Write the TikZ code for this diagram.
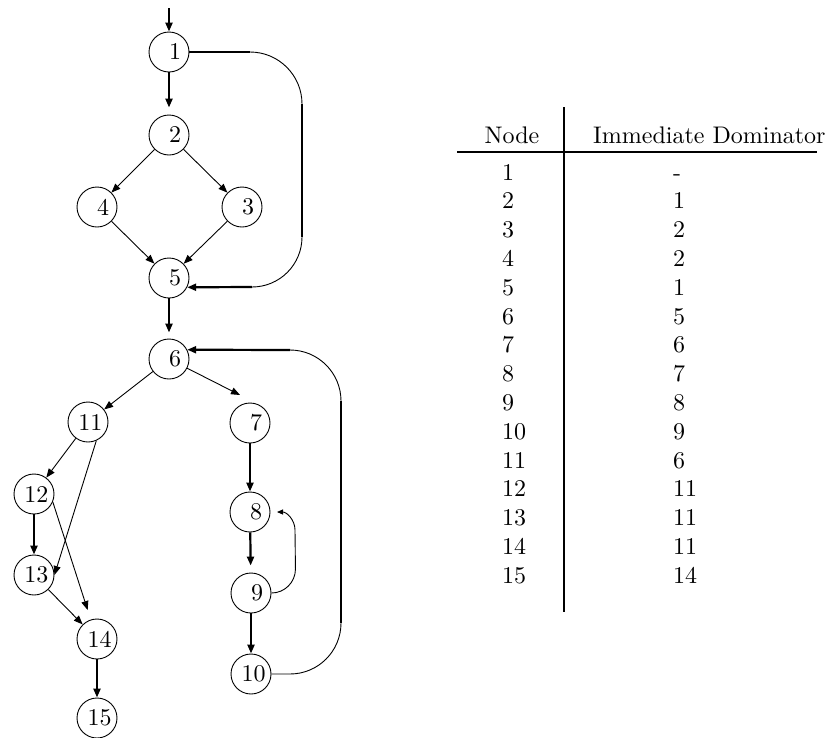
\documentclass[tikz,border=0pt]{standalone}
\usepackage{graphicx}
\usetikzlibrary{arrows.meta}
\newcommand{\bigtxt}[1]{\scalebox{2.4}{#1}}
\newcommand{\oned}[1]{\hspace*{12pt}\bigtxt{#1}}
\newcommand{\twod}[1]{\hspace*{5pt}\bigtxt{#1}}
\tikzset{
  vtx/.style={circle, draw, line width=0.9pt, minimum size=40pt, inner sep=0pt},
  tip/.style={-{Triangle[length=9pt,width=7pt]}},
  thinedge/.style={line width=0.9pt, tip},
  thickedge/.style={line width=2.2pt, tip},
  thinline/.style={line width=0.9pt},
  midline/.style={line width=1.5pt},
  thickline/.style={line width=2.2pt},
  smalltip/.style={line width=0.9pt, -{Triangle[length=6pt,width=5pt]}},
  cell/.style={anchor=base west, inner sep=0pt},
  rulestyle/.style={line width=2.4pt}
}
\begin{document}
\begin{tikzpicture}[x=1pt,y=1pt]
\useasboundingbox (0,0) rectangle (830,-737);

% vertices
\node[vtx] (n1)  at (169,-52)  {\oned{1}};
\node[vtx] (n2)  at (169,-135) {\oned{2}};
\node[vtx] (n4)  at (97,-207)  {\oned{4}};
\node[vtx] (n3)  at (242,-207) {\oned{3}};
\node[vtx] (n5)  at (169,-278) {\oned{5}};
\node[vtx] (n6)  at (169,-359) {\oned{6}};
\node[vtx] (n11) at (88,-422)  {\twod{11}};
\node[vtx] (n7)  at (250,-423) {\oned{7}};
\node[vtx] (n12) at (34,-494)  {\twod{12}};
\node[vtx] (n8)  at (250,-512) {\oned{8}};
\node[vtx] (n13) at (34,-575)  {\twod{13}};
\node[vtx] (n9)  at (251,-593) {\oned{9}};
\node[vtx] (n14) at (97,-639)  {\twod{14}};
\node[vtx] (n10) at (251,-674) {\twod{10}};
\node[vtx] (n15) at (97,-718)  {\twod{15}};

% edges
\coordinate (top) at (169,-8);
\draw[thickedge] (top) -- (n1);
\draw[thickedge, shorten >=7pt] (n1) -- (n2);
\draw[thinedge] (n2) -- (n4);
\draw[thinedge] (n2) -- (n3);
\draw[thinedge] (n4) -- (n5);
\draw[thinedge] (n3) -- (n5);
\draw[thickedge, shorten >=6pt] (n5) -- (n6);
\draw[thinedge] (n6) -- (n11);
\coordinate (c67) at (240,-395);
\draw[thinedge] (n6) -- (c67);
\draw[thinedge] (n11) -- (n12);
\draw[thinedge] (n11.-66) -- (n13.east);
\draw[thickedge] (n12) -- (n13);
\draw[thinedge, shorten >=10pt] (n12.-23) -- (n14);
\draw[thinedge] (n13) -- (n14);
\draw[thickedge] (n14) -- (n15);
\draw[thickedge] (n7) -- (n8);
\draw[thickedge, shorten >=7pt] (n8) -- (n9);
\draw[thickedge] (n9) -- (n10);

% loop 1 -> 5
\draw[midline] (n1.east) -- (250,-52) coordinate (L1a);
\draw[thinline] (L1a) arc[start angle=90, end angle=0, radius=52] coordinate (L1b);
\draw[thickline] (L1b) -- (302,-237) coordinate (L1c);
\draw[thinline] (L1c) arc[start angle=0, end angle=-90, radius=50] coordinate (L1d);
\draw[thickedge] (L1d) -- (n5.-27);

% loop 10 -> 6
\draw[thinline] (n10.east) -- (290,-674) arc[start angle=-90, end angle=0, radius=51] coordinate (L2a);
\draw[thickline] (L2a) -- (341,-401) coordinate (L2b);
\draw[thinline] (L2b) arc[start angle=0, end angle=90, radius=51] coordinate (L2c);
\draw[thickedge] (L2c) -- (n6.27);

% loop 9 -> 8
\draw[smalltip] (n9.east) arc[start angle=-90, end angle=0, radius=24] -- (295,-530) arc[start angle=0, end angle=90, radius=18];

% table
\coordinate (vt) at (564,-107);
\coordinate (vb) at (564,-612);
\draw[line width=2.2pt] (vt) -- (vb);
\coordinate (rl) at (457,-152);
\coordinate (rr) at (817,-152);
\draw[rulestyle] (rl) -- (rr);
\node[anchor=base, inner sep=0pt] (hnode) at (512,-143) {\bigtxt{Node}};
\node[cell] (hdom) at (593,-143) {\bigtxt{Immediate Dominator}};
\foreach \n/\d [count=\i from 0] in {1/-,2/1,3/2,4/2,5/1,6/5,7/6,8/7,9/8,10/9,11/6,12/11,13/11,14/11,15/14}{
  \node[cell] (r\n) at (502,{-180-\i*28.8}) {\bigtxt{\n}};
  \node[cell] (d\n) at (673,{-180-\i*28.8}) {\bigtxt{\d}};
}
\end{tikzpicture}
\end{document}
